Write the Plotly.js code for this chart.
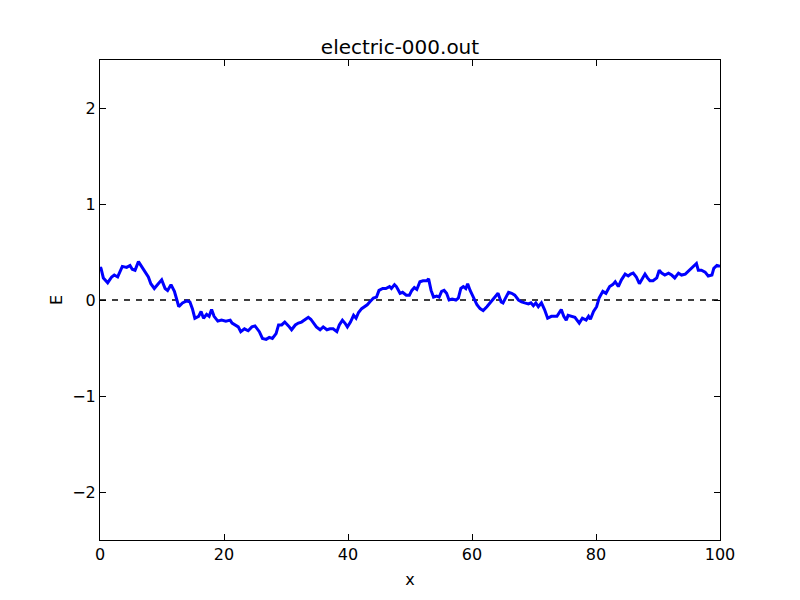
<!DOCTYPE html>
<html>
<head>
<meta charset="utf-8">
<script src="https://cdn.plot.ly/plotly-3.0.1.min.js"></script>
<style>html,body{margin:0;padding:0;background:#fff;}#chart{width:800px;height:600px;}</style>
</head>
<body>
<div id="chart"></div>
<script>
const xValues = [0, 0.16, 0.54, 1.24, 1.88, 2.3, 2.85, 3.6, 4.3, 4.84, 5.2, 5.65, 6.2, 6.7, 7.26, 7.8, 8.2, 8.76, 9.4, 9.95, 10.5, 10.9, 11.45, 12, 12.4, 12.7, 13.3, 14, 14.5, 14.9, 15.3, 15.9, 16.3, 16.7, 17.2, 17.6, 18, 18.4, 19, 19.6, 20.3, 21, 21.3, 21.8, 22.3, 22.7, 23.3, 23.9, 24.5, 25.0, 25.7, 26.2, 26.8, 27.3, 27.8, 28.4, 28.8, 29.3, 29.8, 30.4, 30.9, 31.5, 32, 32.5, 33.1, 33.6, 34, 34.4, 34.9, 35.5, 36, 36.6, 37.1, 37.6, 38.2, 38.6, 39.1, 39.5, 39.9, 40.4, 40.9, 41.3, 41.7, 42.2, 42.7, 43.1, 43.5, 44.1, 44.6, 45, 45.6, 46.1, 46.7, 47, 47.5, 47.8, 48.4, 48.8, 49.4, 49.9, 50.3, 50.7, 51.1, 51.6, 52.1, 52.7, 53, 53.4, 53.8, 54.3, 54.7, 55.1, 55.5, 55.9, 56.3, 56.8, 57.4, 57.8, 58.2, 58.6, 59, 59.3, 59.7, 60.2, 60.8, 61.3, 61.8, 62.4, 62.9, 63.4, 63.8, 64.2, 64.7, 65, 65.4, 65.9, 66.4, 66.9, 67.5, 68, 68.5, 69.1, 69.5, 69.9, 70.3, 70.7, 71.2, 71.7, 72.2, 72.8, 73.7, 74, 74.4, 74.8, 75.2, 75.5, 76.1, 76.6, 77.3, 77.8, 78.4, 78.8, 79.1, 79.6, 80.1, 80.5, 81.1, 81.6, 82.2, 82.7, 83.1, 83.6, 84.1, 84.7, 85.2, 85.6, 86, 86.5, 87, 87.5, 87.9, 88.3, 88.7, 89.2, 89.8, 90.2, 90.6, 91.1, 91.7, 92.2, 92.7, 93.3, 93.8, 94.4, 94.9, 95.4, 95.8, 96.2, 96.5, 97, 97.6, 98.1, 98.7, 99, 99.5, 100];
const eValues = [0.34, 0.33, 0.23, 0.18, 0.24, 0.26, 0.24, 0.35, 0.34, 0.36, 0.32, 0.31, 0.40, 0.35, 0.28, 0.24, 0.17, 0.12, 0.17, 0.21, 0.12, 0.10, 0.16, 0.09, 0.0, -0.07, -0.03, -0.01, -0.02, -0.09, -0.19, -0.17, -0.12, -0.19, -0.15, -0.17, -0.10, -0.17, -0.22, -0.21, -0.22, -0.21, -0.24, -0.26, -0.28, -0.33, -0.30, -0.32, -0.28, -0.27, -0.33, -0.40, -0.41, -0.39, -0.40, -0.35, -0.26, -0.26, -0.23, -0.27, -0.31, -0.26, -0.24, -0.23, -0.20, -0.18, -0.20, -0.24, -0.28, -0.31, -0.28, -0.31, -0.30, -0.30, -0.33, -0.26, -0.21, -0.24, -0.28, -0.23, -0.16, -0.19, -0.13, -0.09, -0.07, -0.05, -0.02, 0.02, 0.03, 0.10, 0.12, 0.12, 0.14, 0.12, 0.16, 0.14, 0.07, 0.08, 0.05, 0.05, 0.10, 0.13, 0.11, 0.19, 0.20, 0.20, 0.22, 0.10, 0.03, 0.04, 0.03, 0.09, 0.10, 0.07, 0.0, 0.01, 0.0, 0.02, 0.12, 0.14, 0.12, 0.17, 0.10, 0.03, -0.05, -0.09, -0.11, -0.07, -0.03, 0.0, 0.03, 0.07, -0.02, -0.03, 0.02, 0.08, 0.07, 0.05, 0.0, -0.02, -0.03, -0.04, -0.03, -0.06, -0.03, -0.07, -0.03, -0.10, -0.19, -0.17, -0.17, -0.14, -0.10, -0.17, -0.21, -0.16, -0.17, -0.18, -0.24, -0.19, -0.21, -0.17, -0.20, -0.12, -0.07, 0.02, 0.09, 0.07, 0.14, 0.16, 0.19, 0.14, 0.21, 0.27, 0.25, 0.27, 0.28, 0.24, 0.17, 0.23, 0.27, 0.23, 0.20, 0.20, 0.23, 0.31, 0.28, 0.26, 0.28, 0.26, 0.23, 0.28, 0.26, 0.27, 0.30, 0.33, 0.35, 0.38, 0.31, 0.31, 0.29, 0.25, 0.26, 0.33, 0.36, 0.35];
const zeroX = [0, 100];
const zeroY = [0, 0];
const xTicks = [0, 20, 40, 60, 80, 100];
const yTicks = [-2, -1, 0, 1, 2];

const font = {family: 'DejaVu Sans, sans-serif', size: 16, color: '#000'};
const traces = [
  {x: zeroX, y: zeroY, mode: 'lines', line: {color: '#000', width: 1.3, dash: '6px,6px'}, hoverinfo: 'skip'},
  {x: xValues, y: eValues, mode: 'lines', line: {color: '#0000ff', width: 3}}
];
const axisCommon = {
  showgrid: false, zeroline: false, showline: true, mirror: 'ticks',
  linecolor: '#000', linewidth: 1, ticks: 'inside', ticklen: 6, tickwidth: 1,
  tickcolor: '#000', tickfont: font
};
const layout = {
  width: 800, height: 600,
  paper_bgcolor: '#fff', plot_bgcolor: '#fff',
  margin: {l: 100, r: 80, t: 60, b: 60},
  showlegend: false,
  title: {text: 'electric-000.out', font: {family: 'DejaVu Sans, sans-serif', size: 20, color: '#000'}, x: 0.5, xanchor: 'center', y: 1 - 47 / 600, yanchor: 'middle'},
  xaxis: Object.assign({}, axisCommon, {range: [0, 100], tickvals: xTicks, ticktext: xTicks.map(String),
    title: {text: 'x', font: font, standoff: 10}}),
  yaxis: Object.assign({}, axisCommon, {range: [-2.5, 2.5], tickvals: yTicks, ticktext: yTicks.map(v => v < 0 ? '\u2212' + Math.abs(v) : String(v)),
    title: {text: 'E', font: font, standoff: 5}})
};
Plotly.newPlot('chart', traces, layout, {displayModeBar: false, staticPlot: true});
</script>
</body>
</html>
